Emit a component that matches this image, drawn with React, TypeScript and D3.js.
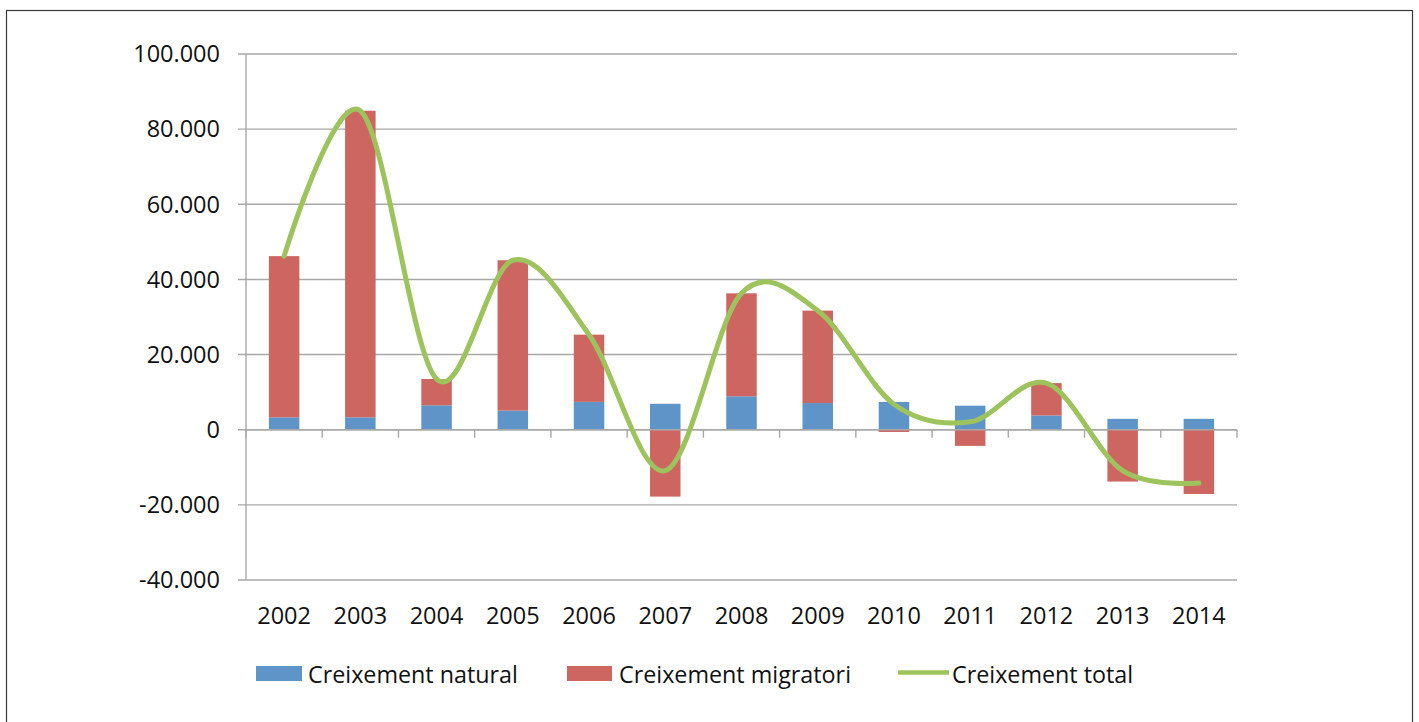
import React from "react";
import * as d3 from "d3";

const years = ["2002", "2003", "2004", "2005", "2006", "2007", "2008", "2009", "2010", "2011", "2012", "2013", "2014"];
const natural = [3300, 3300, 6500, 5100, 7400, 6900, 8900, 7100, 7400, 6400, 3800, 2900, 2900];
const migratori = [42900, 81600, 7000, 40000, 17900, -17800, 27400, 24600, -600, -4300, 8600, -13800, -17100];
const total = [46200, 84900, 13500, 45100, 25300, -10900, 36300, 31700, 6800, 2100, 12400, -10900, -14200];
const yTicks = [-40000, -20000, 0, 20000, 40000, 60000, 80000, 100000];
const seriesNames = ["Creixement natural", "Creixement migratori", "Creixement total"];

const BLUE = "#5f94c9";
const RED = "#cd6661";
const GREEN = "#9dc35c";
const GRID = "#a8a8a8";
const FONT = "'Open Sans', sans-serif";

export default function App() {
  const left = 246, right = 1237, top = 54, bottom = 580;
  const x = d3.scaleBand<string>().domain(years).range([left, right]).paddingInner(0.6).paddingOuter(0.3);
  const y = d3.scaleLinear().domain([-40000, 100000]).range([bottom, top]);
  const loc = d3.formatLocale({ decimal: ",", thousands: ".", grouping: [3], currency: ["", "€"], minus: "-" });
  const fmt = loc.format(",");

  const rows = years.map((yr, i) => ({ year: yr, natural: natural[i], migratori: migratori[i] }));
  const stack = d3.stack<any>().keys(["natural", "migratori"]).offset(d3.stackOffsetDiverging);
  const layers = stack(rows);
  const colors = [BLUE, RED];

  const line = d3
    .line<number>()
    .x((_, i) => (x(years[i]) as number) + x.bandwidth() / 2)
    .y((d) => y(d))
    .curve(d3.curveCardinal.tension(0));

  const catEdges = d3.range(years.length + 1).map((i) => left + i * ((right - left) / years.length));

  return (
    <svg width={1419} height={722} style={{ position: "absolute", left: 0, top: 0, background: "#fff" }} fontFamily={FONT}>
      <rect x={6.5} y={10.5} width={1406} height={720} fill="#fff" stroke="#3a3a3a" strokeWidth={1.2} />
      {yTicks.map((t) => (
        <g key={t}>
          <line x1={left - 8} x2={right} y1={y(t)} y2={y(t)} stroke={GRID} strokeWidth={1.4} />
          <text x={220} y={y(t)} dy="0.35em" textAnchor="end" fontSize={23.5} fill="#111">
            {fmt(t)}
          </text>
        </g>
      ))}
      <line x1={left} x2={left} y1={top} y2={bottom} stroke={GRID} strokeWidth={1.4} />
      {layers.map((layer, li) =>
        layer.map((d, i) => (
          <rect
            key={li + "-" + i}
            x={x(years[i])}
            width={x.bandwidth()}
            y={y(Math.max(d[0], d[1]))}
            height={Math.abs(y(d[0]) - y(d[1]))}
            fill={colors[li]}
          />
        ))
      )}
      <line x1={left} x2={right} y1={y(0)} y2={y(0)} stroke={GRID} strokeWidth={1.4} />
      {catEdges.map((cx, i) => (
        <line key={i} x1={cx} x2={cx} y1={y(0)} y2={y(0) + 8} stroke={GRID} strokeWidth={1.4} />
      ))}
      <path d={line(total) || ""} fill="none" stroke={GREEN} strokeWidth={5} strokeLinecap="round" />
      {years.map((yr) => (
        <text key={yr} x={(x(yr) as number) + x.bandwidth() / 2} y={616} dy="0.35em" textAnchor="middle" fontSize={23.5} fill="#111">
          {yr}
        </text>
      ))}
      <g>
        <rect x={256} y={666} width={46} height={15} fill={BLUE} />
        <text x={308} y={675} dy="0.35em" fontSize={23.3} fill="#111">{seriesNames[0]}</text>
        <rect x={567} y={666} width={45} height={15} fill={RED} />
        <text x={619} y={675} dy="0.35em" fontSize={23.3} fill="#111">{seriesNames[1]}</text>
        <line x1={898} x2={949} y1={672.5} y2={672.5} stroke={GREEN} strokeWidth={4.5} />
        <text x={952} y={675} dy="0.35em" fontSize={23.3} fill="#111">{seriesNames[2]}</text>
      </g>
    </svg>
  );
}
